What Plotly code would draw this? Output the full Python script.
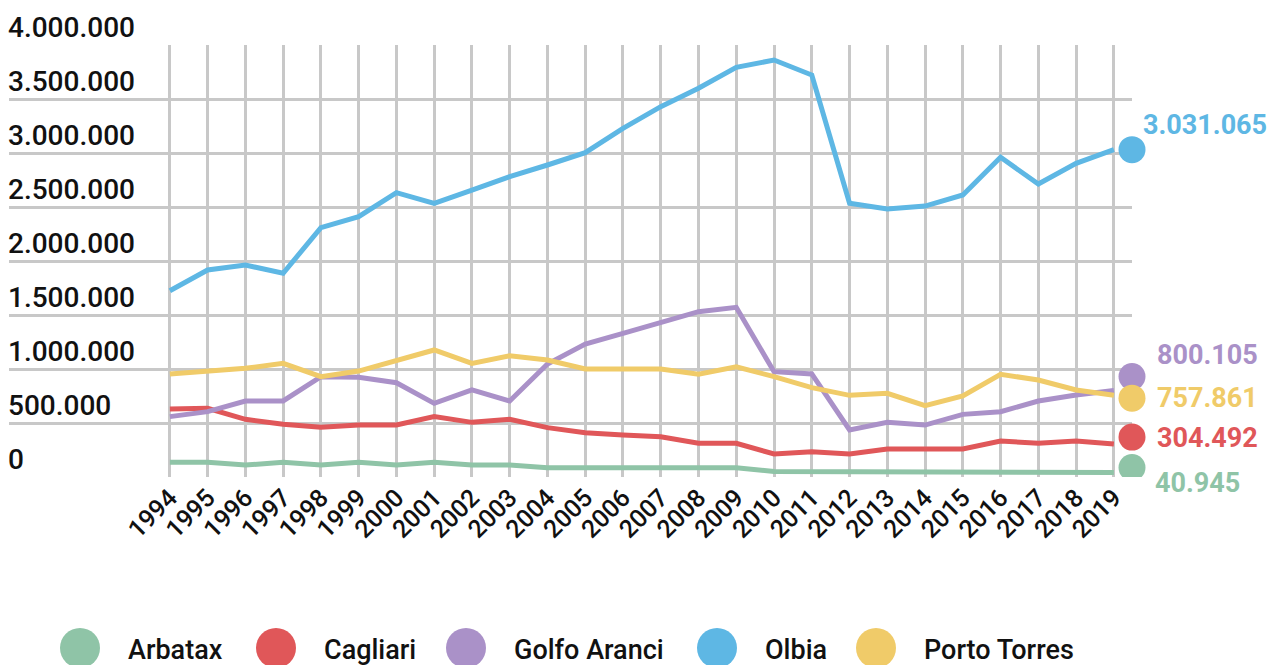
import plotly.graph_objects as go

# ─── data ───────────────────────────────────────────────────────────
years = list(range(1994, 2020))

arbatax = [136000, 136000, 111000, 136000, 111000, 136000, 111000, 136000, 111000, 111000,
           86000, 86000, 86000, 86000, 86000, 86000, 52000, 52000, 52000, 52000,
           52000, 52000, 52000, 52000, 52000, 40945]
cagliari = [630000, 636000, 534000, 488000, 460000, 481000, 481000, 559000, 506000, 534000,
            457000, 410000, 389000, 373000, 312000, 312000, 213000, 234000, 213000, 259000,
            259000, 259000, 333000, 312000, 333000, 304492]
golfo_aranci = [559000, 605000, 704000, 704000, 929000, 923000, 873000, 682000, 806000, 704000,
                1046000, 1231000, 1330000, 1432000, 1531000, 1571000, 975000, 954000, 435000, 506000,
                481000, 580000, 605000, 704000, 759000, 800105]
olbia = [1725000, 1917000, 1963000, 1886000, 2309000, 2410000, 2633000, 2534000, 2657000, 2781000,
         2889000, 3003000, 3228000, 3429000, 3599000, 3793000, 3861000, 3722000, 2534000, 2481000,
         2509000, 2611000, 2960000, 2713000, 2904000, 3031065]
porto_torres = [954000, 981000, 1006000, 1052000, 929000, 981000, 1083000, 1176000, 1052000, 1123000,
                1083000, 1000000, 1000000, 1000000, 951000, 1021000, 929000, 827000, 756000, 775000,
                660000, 750000, 951000, 898000, 806000, 757861]

names = ["Arbatax", "Cagliari", "Golfo Aranci", "Olbia", "Porto Torres"]
series = [arbatax, cagliari, golfo_aranci, olbia, porto_torres]
colors = ["#8fc4a7", "#e05759", "#aa91c8", "#5eb7e4", "#f0cb69"]

y_ticks = [0, 500000, 1000000, 1500000, 2000000, 2500000, 3000000, 3500000, 4000000]

# end-label placement (pixel offsets to avoid overlaps)
dot_dy = [5, 7, 14, 0, -3]
lab_dy = [-10, 6, 36, 25, -3]
lab_dx = [21, 23, 23, 9, 23]

# legend placement (pixel centres of the dots)
legend_x = [80, 276, 466, 717, 876]

W, H = 1273, 665
FONT = "Roboto"


def fmt(v):
    return f"{v:,}".replace(",", ".")


fig = go.Figure()

for name, vals, col in zip(names, series, colors):
    fig.add_trace(
        go.Scatter(
            x=years, y=vals, mode="lines", name=name,
            line=dict(color=col, width=5),
            showlegend=False,
            hovertemplate="%{x}: %{y:,}<extra>" + name + "</extra>",
        )
    )

shapes = []
annotations = []

# y labels sitting above their gridlines
for v in y_ticks:
    annotations.append(dict(
        x=0, xref="paper", y=v, yref="y", xanchor="left", yanchor="bottom",
        xshift=-3, yshift=-1, text=fmt(v), showarrow=False,
        font=dict(family=FONT, size=28, color="#111111", weight=500),
    ))

# end dots + value labels
for vals, col, ddy, ly, lx in zip(series, colors, dot_dy, lab_dy, lab_dx):
    last = vals[-1]
    shapes.append(dict(
        type="circle", xref="paper", yref="y",
        xsizemode="pixel", ysizemode="pixel",
        xanchor=1, yanchor=last,
        x0=-13.5, x1=13.5, y0=ddy - 13.5, y1=ddy + 13.5,
        fillcolor=col, line=dict(width=0), layer="above",
    ))
    annotations.append(dict(
        x=1, xref="paper", y=last, yref="y", xanchor="left", yanchor="middle",
        xshift=lx, yshift=ly, text=f"<b>{fmt(last)}</b>", showarrow=False,
        font=dict(family=FONT, size=27, color=col),
    ))

# custom legend at the bottom
for name, col, lx in zip(names, colors, legend_x):
    shapes.append(dict(
        type="circle", xref="paper", yref="paper",
        xsizemode="pixel", ysizemode="pixel",
        xanchor=(lx - 9) / (1132 - 9), yanchor=-(648 - 477) / 432,
        x0=-20, x1=20, y0=-20, y1=20,
        fillcolor=col, line=dict(width=0),
    ))
    annotations.append(dict(
        x=(lx - 9) / (1132 - 9), xref="paper", y=-(648 - 477) / 432, yref="paper",
        xanchor="left", yanchor="middle", xshift=46, yshift=-2,
        text=name, showarrow=False,
        font=dict(family=FONT, size=27, color="#111111", weight=500),
    ))

fig.update_layout(
    width=W, height=H,
    margin=dict(l=9, r=W - 1132, t=45, b=H - 477, pad=0),
    plot_bgcolor="white", paper_bgcolor="white",
    font=dict(family=FONT, color="#111111"),
    shapes=shapes,
    annotations=annotations,
)
fig.update_xaxes(
    range=[1989.74, 2019.48],
    tickvals=years, ticktext=[str(y) for y in years],
    tickangle=-45, tickfont=dict(family=FONT, size=25, color="#111111", weight=500),
    showgrid=True, gridcolor="#c8c8c8", gridwidth=2.5,
    zeroline=False, showline=False, ticks="",
)
fig.update_yaxes(
    range=[0, 4000000],
    tickvals=y_ticks, showticklabels=False,
    showgrid=True, gridcolor="#c8c8c8", gridwidth=2.5,
    zeroline=False, showline=False, ticks="",
)

fig.write_html(
    "out.html",
    config={"displayModeBar": False},
    post_script="document.body.style.margin='0';document.body.style.overflow='hidden';",
)
